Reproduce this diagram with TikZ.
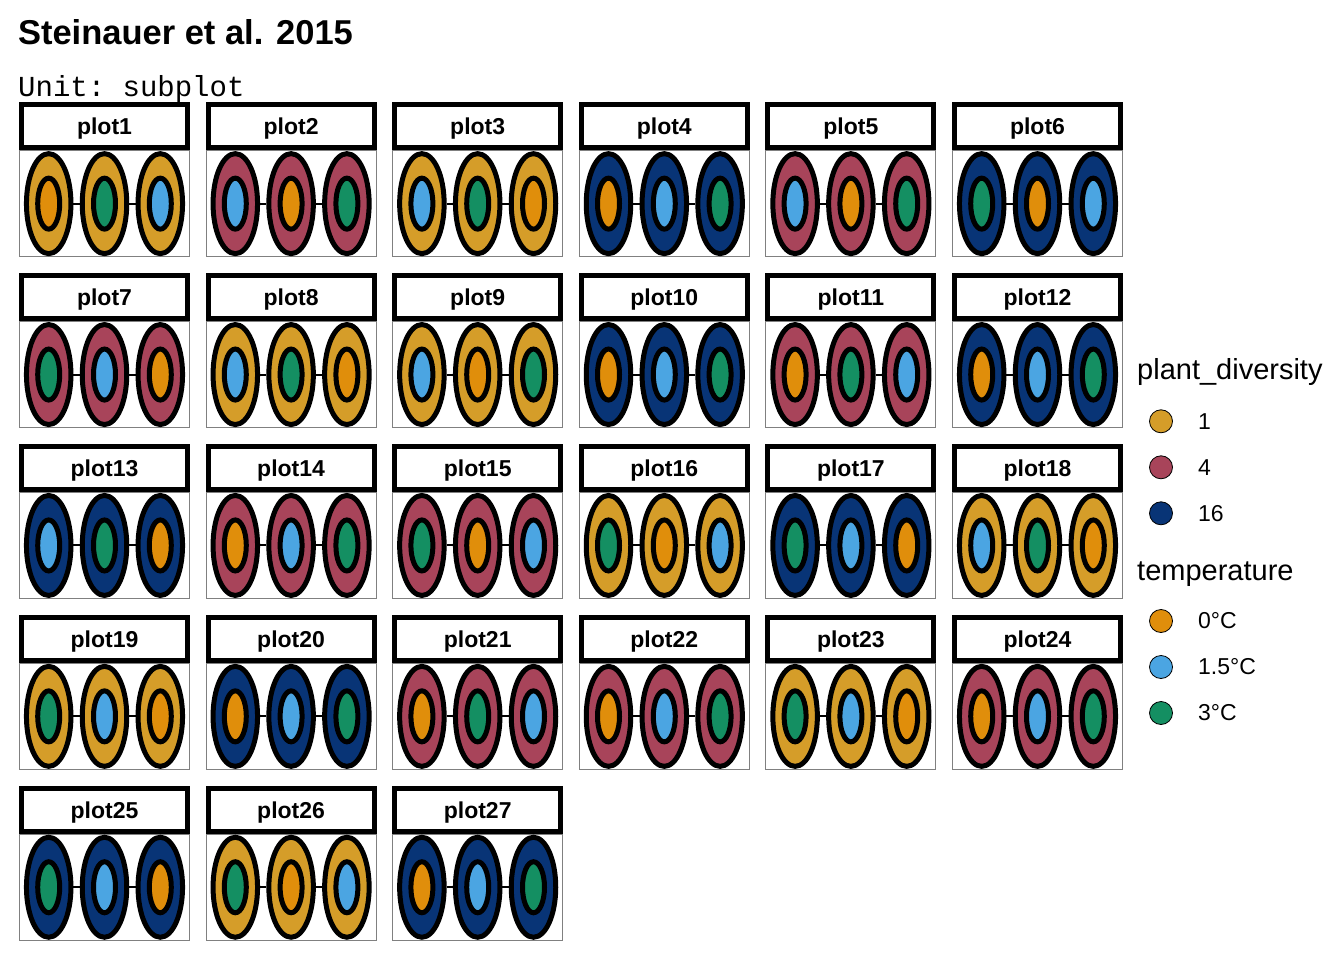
\documentclass[tikz,border=0pt]{standalone}
\usepackage{fontspec}
\setmainfont{Liberation Sans}
\setmonofont{Liberation Mono}
\usetikzlibrary{positioning,shapes.geometric}
\definecolor{DivOne}{RGB}{213,157,41}
\definecolor{DivFour}{RGB}{168,68,90}
\definecolor{DivSixteen}{RGB}{8,52,118}
\definecolor{TZero}{RGB}{224,142,11}
\definecolor{TMid}{RGB}{75,165,226}
\definecolor{THigh}{RGB}{20,143,98}
\tikzset{
  stripbox/.style={draw=black,fill=white,line width=5pt,minimum width=166pt,minimum height=42.7pt,inner sep=0pt,text depth=0pt,font=\fontsize{23}{27}\selectfont\bfseries},
  panelbody/.style={draw=black!50,fill=white,line width=1pt,minimum width=170pt,minimum height=106.3pt,inner sep=0pt},
  ring/.style={ellipse,draw=black,line width=5pt,minimum width=44.5pt,minimum height=100pt,inner sep=0pt},
  core/.style={ellipse,draw=black,line width=5pt,minimum width=22pt,minimum height=51pt,inner sep=0pt},
  link/.style={draw=black,line width=2pt},
  key/.style={circle,draw=black,line width=.8pt,minimum size=23pt,inner sep=0pt},
  keylabel/.style={anchor=west,inner sep=0pt,font=\fontsize{23}{27}\selectfont},
  legtitle/.style={anchor=base west,inner sep=0pt,font=\fontsize{29}{34}\selectfont}
}
\begin{document}
\begin{tikzpicture}[x=1pt,y=-1pt,node distance=6.3pt]
  \fill[white] (0,0) rectangle (1344,960);
  \useasboundingbox (0,0) rectangle (1344,960);
  \node[anchor=base west,inner sep=0pt,font=\fontsize{34.5}{40}\selectfont\bfseries] (title) at (17.8,44.5) {Steinauer et al. 2015};
  \node[anchor=base west,inner sep=0pt,font=\fontsize{29}{34}\selectfont\ttfamily] (unit) at (18,97) {Unit: subplot};
  % panels: number/column/row/diversity/temperatures
  \foreach \n/\cc/\rr/\dv/\ia/\ib/\ic in {
    1/0/0/DivOne/TZero/THigh/TMid, 2/1/0/DivFour/TMid/TZero/THigh,
    3/2/0/DivOne/TMid/THigh/TZero, 4/3/0/DivSixteen/TZero/TMid/THigh,
    5/4/0/DivFour/TMid/TZero/THigh, 6/5/0/DivSixteen/THigh/TZero/TMid,
    7/0/1/DivFour/THigh/TMid/TZero, 8/1/1/DivOne/TMid/THigh/TZero,
    9/2/1/DivOne/TMid/TZero/THigh, 10/3/1/DivSixteen/TZero/TMid/THigh,
    11/4/1/DivFour/TZero/THigh/TMid, 12/5/1/DivSixteen/TZero/TMid/THigh,
    13/0/2/DivSixteen/TMid/THigh/TZero, 14/1/2/DivFour/TZero/TMid/THigh,
    15/2/2/DivFour/THigh/TZero/TMid, 16/3/2/DivOne/THigh/TZero/TMid,
    17/4/2/DivSixteen/THigh/TMid/TZero, 18/5/2/DivOne/TMid/THigh/TZero,
    19/0/3/DivOne/THigh/TMid/TZero, 20/1/3/DivSixteen/TZero/TMid/THigh,
    21/2/3/DivFour/TZero/THigh/TMid, 22/3/3/DivFour/TZero/TMid/THigh,
    23/4/3/DivOne/THigh/TMid/TZero, 24/5/3/DivFour/TZero/TMid/THigh,
    25/0/4/DivSixteen/THigh/TMid/TZero, 26/1/4/DivOne/THigh/TZero/TMid,
    27/2/4/DivSixteen/TZero/TMid/THigh}{
    \node[stripbox,anchor=north west] (s\n) at ({19+186.6*\cc},{102.3+170.9*\rr}) {plot\n};
    \node[panelbody,below=0pt of s\n] (b\n) {};
    \node[ring,fill=\dv] (m\n) at (b\n) {};
    \node[ring,fill=\dv,left=of m\n] (l\n) {};
    \node[ring,fill=\dv,right=of m\n] (r\n) {};
    \node[core,fill=\ia] (li\n) at (l\n) {};
    \node[core,fill=\ib] (mi\n) at (m\n) {};
    \node[core,fill=\ic] (ri\n) at (r\n) {};
    \draw[link] (l\n) -- (m\n);
    \draw[link] (m\n) -- (r\n);
  }
  % legend
  \node[legtitle] (divtitle) at (1137,379.5) {plant\_diversity};
  \node[key,fill=DivOne] (k1) at (1161,421.3) {};
  \node[key,fill=DivFour,below=22.2pt of k1] (k2) {};
  \node[key,fill=DivSixteen,below=22.2pt of k2] (k3) {};
  \node[keylabel,right=25pt of k1] (kl1) {1};
  \node[keylabel,right=25pt of k2] (kl2) {4};
  \node[keylabel,right=25pt of k3] (kl3) {16};
  \node[legtitle] (temptitle) at (1137,580) {temperature};
  \node[key,fill=TZero] (k4) at (1161,621) {};
  \node[key,fill=TMid,below=22.2pt of k4] (k5) {};
  \node[key,fill=THigh,below=22.2pt of k5] (k6) {};
  \node[keylabel,right=25pt of k4] (kl4) {0°C};
  \node[keylabel,right=25pt of k5] (kl5) {1.5°C};
  \node[keylabel,right=25pt of k6] (kl6) {3°C};
\end{tikzpicture}
\end{document}
